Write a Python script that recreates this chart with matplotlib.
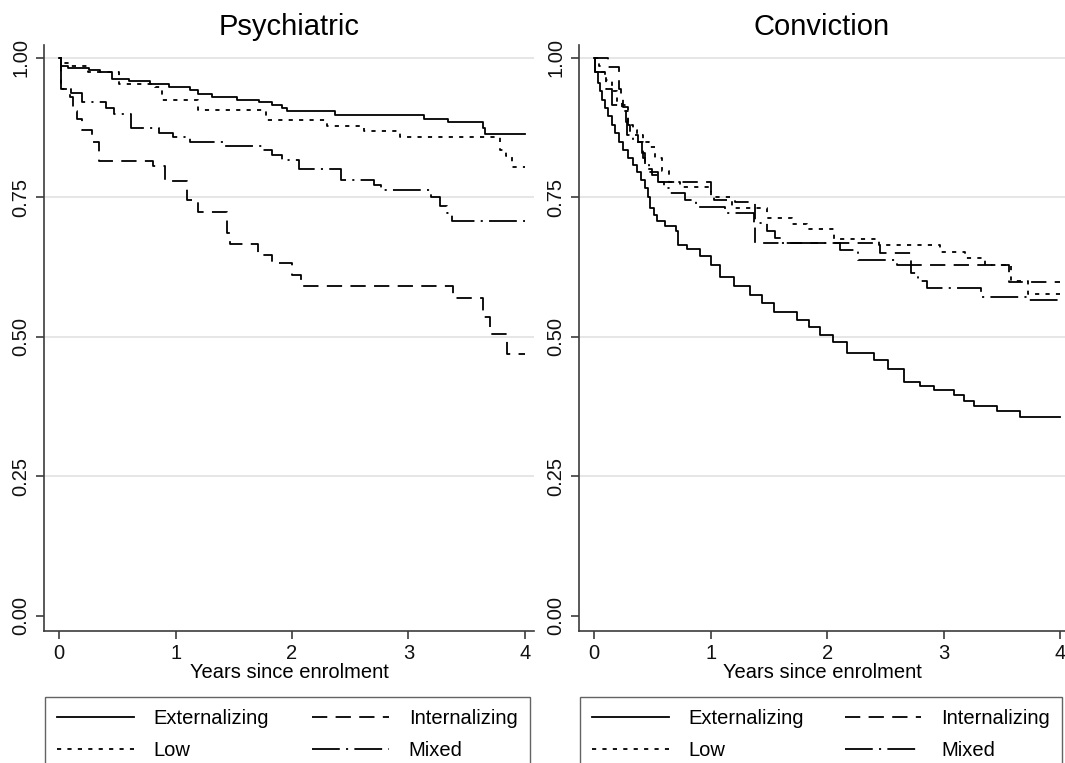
import matplotlib
matplotlib.use('Agg')
import matplotlib.pyplot as plt
from matplotlib.lines import Line2D

plt.rcParams['font.family'] = ['Liberation Sans', 'DejaVu Sans']
plt.rcParams['lines.scale_dashes'] = False

groups = ['Externalizing', 'Internalizing', 'Low', 'Mixed']
panel_titles = ['Psychiatric', 'Conviction']
x_ticks = [0, 1, 2, 3, 4]
y_ticks = [0.00, 0.25, 0.50, 0.75, 1.00]
y_tick_labels = ['0.00', '0.25', '0.50', '0.75', '1.00']
x_label = 'Years since enrolment'
follow_up_end = 4.0

# Psychiatric outcome, Kaplan-Meier steps (time, survival)
psy_ext_t = [0, 0.02, 0.08, 0.26, 0.35, 0.45, 0.60, 0.78, 0.94, 1.12, 1.19, 1.31, 1.53, 1.72,
             1.83, 1.91, 1.96, 2.37, 3.13, 3.34, 3.64, 3.66]
psy_ext_s = [1.0, 0.985, 0.981, 0.978, 0.975, 0.963, 0.958, 0.954, 0.947, 0.942, 0.936, 0.930,
             0.925, 0.921, 0.915, 0.910, 0.904, 0.898, 0.891, 0.885, 0.875, 0.864]

psy_int_t = [0, 0.02, 0.09, 0.12, 0.15, 0.20, 0.28, 0.34, 0.81, 0.91, 1.10, 1.19, 1.44, 1.47,
             1.71, 1.83, 2.00, 2.08, 3.38, 3.64, 3.70, 3.85]
psy_int_s = [1.0, 0.945, 0.93, 0.905, 0.89, 0.87, 0.85, 0.815, 0.806, 0.78, 0.745, 0.724, 0.686,
             0.667, 0.646, 0.633, 0.611, 0.592, 0.569, 0.535, 0.506, 0.470]

psy_low_t = [0, 0.02, 0.10, 0.25, 0.51, 0.82, 0.88, 1.19, 1.78, 2.30, 2.62, 2.93, 3.79, 3.84, 3.89]
psy_low_s = [1.0, 0.99, 0.985, 0.975, 0.954, 0.948, 0.925, 0.906, 0.888, 0.878, 0.869, 0.858,
             0.834, 0.825, 0.805]

psy_mix_t = [0, 0.02, 0.10, 0.20, 0.40, 0.47, 0.62, 0.86, 0.98, 1.12, 1.42, 1.74, 1.83, 1.91,
             2.06, 2.42, 2.70, 2.76, 3.19, 3.27, 3.33, 3.37]
psy_mix_s = [1.0, 0.945, 0.937, 0.920, 0.910, 0.900, 0.874, 0.865, 0.858, 0.850, 0.842, 0.835,
             0.826, 0.817, 0.800, 0.782, 0.772, 0.763, 0.751, 0.735, 0.722, 0.708]

# Conviction outcome
con_ext_t = [0, 0.01, 0.03, 0.05, 0.07, 0.095, 0.12, 0.15, 0.18, 0.21, 0.25, 0.29, 0.33, 0.37,
             0.40, 0.44, 0.46, 0.48, 0.51, 0.54, 0.61, 0.70, 0.72, 0.80, 0.91, 1.00, 1.08, 1.20,
             1.34, 1.44, 1.54, 1.74, 1.84, 1.94, 2.05, 2.17, 2.40, 2.52, 2.66, 2.80, 2.92, 3.09,
             3.17, 3.26, 3.46, 3.65]
con_ext_s = [1.0, 0.975, 0.955, 0.940, 0.925, 0.910, 0.895, 0.880, 0.865, 0.850, 0.835, 0.821,
             0.808, 0.796, 0.782, 0.767, 0.750, 0.731, 0.718, 0.707, 0.698, 0.689, 0.665, 0.657,
             0.645, 0.628, 0.608, 0.592, 0.575, 0.560, 0.544, 0.530, 0.517, 0.503, 0.490, 0.471,
             0.459, 0.443, 0.420, 0.412, 0.404, 0.396, 0.386, 0.376, 0.368, 0.357]

con_int_t = [0, 0.12, 0.21, 0.23, 0.25, 0.29, 0.31, 0.38, 0.42, 0.44, 0.50, 0.55, 1.00, 1.03,
             1.21, 1.38, 2.45, 2.72, 3.56]
con_int_s = [1.0, 0.984, 0.945, 0.93, 0.912, 0.88, 0.862, 0.85, 0.82, 0.80, 0.79, 0.778, 0.758,
             0.746, 0.741, 0.668, 0.651, 0.629, 0.599]

con_low_t = [0, 0.04, 0.06, 0.10, 0.15, 0.20, 0.24, 0.29, 0.33, 0.37, 0.42, 0.47, 0.52, 0.58,
             0.64, 0.74, 1.00, 1.18, 1.48, 1.70, 1.83, 2.06, 2.44, 2.97, 3.18, 3.35, 3.58, 3.72]
con_low_s = [1.0, 0.985, 0.975, 0.96, 0.94, 0.92, 0.905, 0.88, 0.87, 0.862, 0.85, 0.84, 0.82,
             0.797, 0.778, 0.769, 0.75, 0.731, 0.713, 0.702, 0.693, 0.675, 0.665, 0.653, 0.641,
             0.629, 0.60, 0.577]

con_mix_t = [0, 0.01, 0.09, 0.10, 0.15, 0.27, 0.28, 0.33, 0.41, 0.44, 0.47, 0.55, 0.60, 0.65,
             0.78, 0.87, 1.12, 1.37, 1.48, 1.55, 1.60, 2.11, 2.26, 2.60, 2.72, 2.78, 2.86, 3.32,
             3.72]
con_mix_s = [1.0, 0.975, 0.96, 0.945, 0.915, 0.885, 0.862, 0.85, 0.83, 0.81, 0.796, 0.778, 0.767,
             0.758, 0.745, 0.733, 0.722, 0.704, 0.69, 0.677, 0.668, 0.656, 0.638, 0.629, 0.615,
             0.60, 0.588, 0.572, 0.566]

panels = [
    [(psy_ext_t, psy_ext_s), (psy_int_t, psy_int_s), (psy_low_t, psy_low_s), (psy_mix_t, psy_mix_s)],
    [(con_ext_t, con_ext_s), (con_int_t, con_int_s), (con_low_t, con_low_s), (con_mix_t, con_mix_s)],
]

styles = {
    'Externalizing': '-',
    'Internalizing': (0, (11, 6)),
    'Low': (0, (3, 4.5)),
    'Mixed': (0, (20, 4.5, 1.5, 4.5)),
}

axis_color = '#3c3c3c'
fig = plt.figure(figsize=(10.65, 7.63), dpi=100)
ax_rects = [[0.0413, 0.173, 0.4603, 0.768], [0.5437, 0.173, 0.4563, 0.768]]
x_limits = [(-0.13, 4.08), (-0.13, 4.04)]
legend_boxes = [(0.0423, 0.455), (0.5446, 0.4526)]

for i in range(2):
    ax = fig.add_axes(ax_rects[i])
    for name, (t, s) in zip(groups, panels[i]):
        ax.step(t + [follow_up_end], s + [s[-1]], where='post', color='black',
                linewidth=1.3, linestyle=styles[name], label=name)
    ax.set_xlim(*x_limits[i])
    ax.set_ylim(-0.027, 1.023)
    ax.set_xticks(x_ticks)
    ax.set_yticks(y_ticks)
    ax.set_yticklabels(y_tick_labels, rotation=90, va='center')
    for g in y_ticks[1:]:
        ax.axhline(g, color='#e4e4e4', linewidth=1.3, zorder=0)
    for side in ['top', 'right']:
        ax.spines[side].set_visible(False)
    for side in ['left', 'bottom']:
        ax.spines[side].set_color(axis_color)
        ax.spines[side].set_linewidth(1.2)
    ax.tick_params(axis='both', colors=axis_color, labelcolor='#111111', labelsize=14.5,
                   length=6, width=1.2, direction='out')
    ax.tick_params(axis='y', pad=4)
    ax.tick_params(axis='x', pad=3)
    ax.set_title(panel_titles[i], fontsize=21, pad=7)
    ax.set_xlabel(x_label, fontsize=14.5, labelpad=0)

    handles = [Line2D([], [], color='black', linewidth=1.3, linestyle=styles[g]) for g in groups]
    order = [0, 2, 1, 3]
    x0, w = legend_boxes[i]
    leg = ax.legend([handles[k] for k in order], [groups[k] for k in order], ncol=2,
                    loc='upper left', bbox_to_anchor=(x0, 0.0865, w, 0),
                    bbox_transform=fig.transFigure, mode='expand', borderaxespad=0,
                    fancybox=False, fontsize=14.5, handlelength=3.8, handletextpad=1.0,
                    columnspacing=1.5, borderpad=0.6, labelspacing=0.62)
    leg.get_frame().set_edgecolor(axis_color)
    leg.get_frame().set_linewidth(1.0)

fig.savefig('out.png', dpi=100)
